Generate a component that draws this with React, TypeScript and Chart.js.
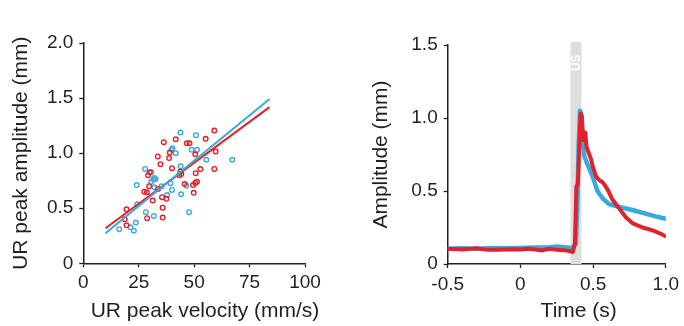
import React, { useEffect, useRef } from 'react';
import { Chart, registerables } from 'chart.js';

Chart.register(...registerables);

// ---------- Left panel: UR peak amplitude vs UR peak velocity ----------
const redVelocity = [19.5, 18.7, 19.5, 59.1, 46.7, 47.9, 36.3, 41.7, 55.2, 59.7, 39.0, 38.7, 33.6, 50.5, 34.8, 40.0, 52.8, 59.1, 50.7, 29.2, 30.0, 43.3, 44.2, 43.8, 45.7, 50.5, 51.3, 49.5, 29.7, 27.5, 28.7, 33.7, 49.8, 35.5, 37.5, 31.3, 35.8, 28.8, 35.8];
const redAmplitude = [0.49, 0.40, 0.345, 1.205, 1.09, 1.09, 1.10, 1.127, 1.13, 1.015, 1.005, 0.955, 0.97, 0.99, 0.90, 0.864, 0.855, 0.857, 0.818, 0.80, 0.826, 0.80, 0.81, 0.833, 0.72, 0.73, 0.74, 0.71, 0.70, 0.65, 0.645, 0.675, 0.64, 0.60, 0.585, 0.57, 0.505, 0.41, 0.415];
const blueVelocity = [43.8, 50.8, 40.2, 39.8, 41.7, 48.9, 51.3, 55.5, 67.2, 27.9, 30.6, 32.0, 31.6, 32.6, 30.6, 24.1, 39.3, 32.1, 35.3, 40.0, 37.8, 44.1, 46.5, 24.3, 28.2, 31.8, 47.7, 23.7, 21.3, 22.8, 16.2, 43.9];
const blueAmplitude = [1.187, 1.163, 1.045, 1.03, 1.0, 1.03, 1.03, 0.94, 0.94, 0.857, 0.826, 0.775, 0.76, 0.765, 0.74, 0.71, 0.727, 0.69, 0.70, 0.666, 0.62, 0.627, 0.703, 0.536, 0.464, 0.43, 0.464, 0.37, 0.327, 0.296, 0.31, 0.88];
const redFitX = [10, 84];
const redFitY = [0.318, 1.418];
const blueFitX = [10, 84];
const blueFitY = [0.273, 1.491];
const scatterXTicks = [0, 25, 50, 75, 100];
const scatterYTicks = [0, 0.5, 1.0, 1.5, 2.0];

// ---------- Right panel: amplitude time course ----------
const redTime = [-0.5, -0.45, -0.4, -0.35, -0.3, -0.25, -0.2, -0.15, -0.1, -0.05, 0, 0.05, 0.1, 0.15, 0.2, 0.25, 0.3, 0.33, 0.36, 0.375, 0.385, 0.395, 0.405, 0.414, 0.423, 0.432, 0.446, 0.455, 0.47, 0.485, 0.5, 0.52, 0.542, 0.565, 0.58, 0.6, 0.634, 0.68, 0.725, 0.77, 0.84, 0.91, 0.965, 1.0];
const redTrace = [0.105, 0.103, 0.10, 0.104, 0.108, 0.10, 0.098, 0.097, 0.10, 0.101, 0.099, 0.104, 0.10, 0.093, 0.104, 0.098, 0.094, 0.09, 0.082, 0.14, 0.53, 0.55, 0.80, 1.03, 1.01, 0.85, 0.90, 0.80, 0.76, 0.72, 0.66, 0.60, 0.575, 0.56, 0.54, 0.51, 0.44, 0.38, 0.32, 0.28, 0.25, 0.23, 0.207, 0.19];
const blueTime = [-0.5, -0.4, -0.3, -0.2, -0.1, 0, 0.1, 0.2, 0.25, 0.3, 0.36, 0.382, 0.393, 0.40, 0.41, 0.418, 0.427, 0.439, 0.462, 0.496, 0.53, 0.565, 0.61, 0.68, 0.77, 0.86, 0.93, 1.0];
const blueTrace = [0.105, 0.108, 0.105, 0.11, 0.108, 0.11, 0.113, 0.115, 0.12, 0.115, 0.11, 0.14, 0.46, 0.80, 1.05, 1.03, 0.83, 0.74, 0.68, 0.60, 0.50, 0.45, 0.41, 0.39, 0.37, 0.345, 0.326, 0.31];
const usWindow = [0.345, 0.42];
const usTop = 1.522;
const usLabel = 'US';
const traceXTicks = [-0.5, 0, 0.5, 1.0];
const traceYTicks = [0, 0.5, 1.0, 1.5];

const FONT = '"Liberation Sans", Arial, Helvetica, sans-serif';
const INK = '#231f20';
const RED = '#e3202b';
const BLUE = '#3aaadd';

const fmt1 = (v: number) => (v === 0 ? '0' : Number(v).toFixed(1));

function axis(ticksArr: number[], min: number, max: number, opts: any) {
  return {
    type: 'linear',
    min,
    max,
    afterBuildTicks: (s: any) => {
      s.ticks = ticksArr.map((v) => ({ value: v }));
    },
    grid: { display: true, drawOnChartArea: false, drawTicks: true, tickLength: 4, tickWidth: 1.3, color: INK },
    border: { display: true, color: INK, width: 1.5 },
    ticks: { color: INK, font: { family: FONT, size: 19 }, padding: opts.pad, callback: opts.cb, autoSkip: false, maxRotation: 0 },
    title: opts.title || { display: false },
    afterFit: opts.fit,
  };
}

function xTitlePlugin(text: string, x: number, y: number) {
  return {
    id: 'xTitle',
    afterDraw(chart: any) {
      const ctx = chart.ctx;
      ctx.save();
      ctx.fillStyle = INK;
      ctx.font = `21px ${FONT}`;
      ctx.textAlign = 'center';
      ctx.textBaseline = 'middle';
      ctx.fillText(text, x, y);
      ctx.restore();
    },
  };
}

const bandPlugin = {
  id: 'usBand',
  beforeDatasetsDraw(chart: any) {
    const { ctx } = chart;
    const xs = chart.scales.x;
    const ys = chart.scales.y;
    const x1 = xs.getPixelForValue(usWindow[0]);
    const x2 = xs.getPixelForValue(usWindow[1]);
    const yT = ys.getPixelForValue(usTop);
    const yB = ys.getPixelForValue(0);
    ctx.save();
    ctx.fillStyle = '#dedede';
    ctx.fillRect(x1, yT, x2 - x1, yB - yT);
    ctx.translate((x1 + x2) / 2 + 0.5, yT + 21);
    ctx.rotate(-Math.PI / 2);
    ctx.fillStyle = '#ffffff';
    ctx.font = `bold 12px ${FONT}`;
    ctx.textAlign = 'center';
    ctx.textBaseline = 'middle';
    ctx.fillText(usLabel, 0, 0);
    ctx.restore();
  },
};

function ScatterPanel() {
  const ref = useRef<HTMLCanvasElement>(null);
  useEffect(() => {
    const chart = new Chart(ref.current as HTMLCanvasElement, {
      type: 'scatter',
      data: {
        datasets: [
          {
            type: 'line',
            data: redFitX.map((x, i) => ({ x, y: redFitY[i] })),
            borderColor: RED,
            borderWidth: 2,
            pointRadius: 0,
            order: 1,
          },
          {
            type: 'line',
            data: blueFitX.map((x, i) => ({ x, y: blueFitY[i] })),
            borderColor: BLUE,
            borderWidth: 2,
            pointRadius: 0,
            order: 0,
          },
          {
            data: redVelocity.map((x, i) => ({ x, y: redAmplitude[i] })),
            borderColor: RED,
            backgroundColor: 'rgba(255,255,255,0)',
            pointRadius: 2.3,
            pointBorderWidth: 1.4,
            order: 2,
          },
          {
            data: blueVelocity.map((x, i) => ({ x, y: blueAmplitude[i] })),
            borderColor: BLUE,
            backgroundColor: 'rgba(255,255,255,0)',
            pointRadius: 2.3,
            pointBorderWidth: 1.4,
            order: 3,
          },
        ],
      } as any,
      options: {
        responsive: false,
        animation: false,
        events: [],
        layout: { padding: { top: 43, right: 37, left: 0, bottom: 0 } },
        plugins: { legend: { display: false }, tooltip: { enabled: false } },
        scales: {
          x: axis(scatterXTicks, 0, 100, {
            pad: 4,
            cb: (v: any) => String(v),
            fit: (s: any) => { s.height = 62.7; },
          }),
          y: axis(scatterYTicks, 0, 2, {
            pad: 6,
            cb: fmt1,
            fit: (s: any) => { s.width = 83.3; },
            title: {
              display: true,
              text: 'UR peak amplitude (mm)',
              color: INK,
              font: { family: FONT, size: 21 },
              padding: { top: 9, bottom: 0 },
            },
          }),
        } as any,
      },
      plugins: [xTitlePlugin('UR peak velocity (mm/s)', 205, 311)],
    });
    return () => chart.destroy();
  }, []);
  return <canvas ref={ref} width={342} height={326} style={{ position: 'absolute', left: 0, top: 0, width: 342, height: 326 }} />;
}

function TracePanel() {
  const ref = useRef<HTMLCanvasElement>(null);
  useEffect(() => {
    const chart = new Chart(ref.current as HTMLCanvasElement, {
      type: 'line',
      data: {
        datasets: [
          {
            data: redTime.map((x, i) => ({ x, y: redTrace[i] })),
            borderColor: RED,
            borderWidth: 4,
            borderJoinStyle: 'round',
            borderCapStyle: 'round',
            pointRadius: 0,
            order: 0,
          },
          {
            data: blueTime.map((x, i) => ({ x, y: blueTrace[i] })),
            borderColor: BLUE,
            borderWidth: 4.5,
            borderJoinStyle: 'round',
            borderCapStyle: 'round',
            pointRadius: 0,
            order: 1,
          },
        ],
      } as any,
      options: {
        responsive: false,
        animation: false,
        events: [],
        layout: { padding: { top: 45, right: 16.3, left: 0, bottom: 0 } },
        plugins: { legend: { display: false }, tooltip: { enabled: false } },
        scales: {
          x: axis(traceXTicks, -0.5, 1.0, {
            pad: 5,
            cb: fmt1,
            fit: (s: any) => { s.height = 62; },
          }),
          y: axis(traceYTicks, 0, 1.5, {
            pad: 6,
            cb: fmt1,
            fit: (s: any) => { s.width = 105.7; },
            title: {
              display: true,
              text: 'Amplitude (mm)',
              color: INK,
              font: { family: FONT, size: 21 },
              padding: { top: 27.1, bottom: 0 },
            },
          }),
        } as any,
      },
      plugins: [bandPlugin, xTitlePlugin('Time (s)', 236.7, 311)],
    });
    return () => chart.destroy();
  }, []);
  return <canvas ref={ref} width={342} height={326} style={{ position: 'absolute', left: 342, top: 0, width: 342, height: 326 }} />;
}

export default function App() {
  return (
    <div style={{ position: 'absolute', left: 0, top: 0, width: 684, height: 326, background: '#ffffff' }}>
      <ScatterPanel />
      <TracePanel />
    </div>
  );
}
